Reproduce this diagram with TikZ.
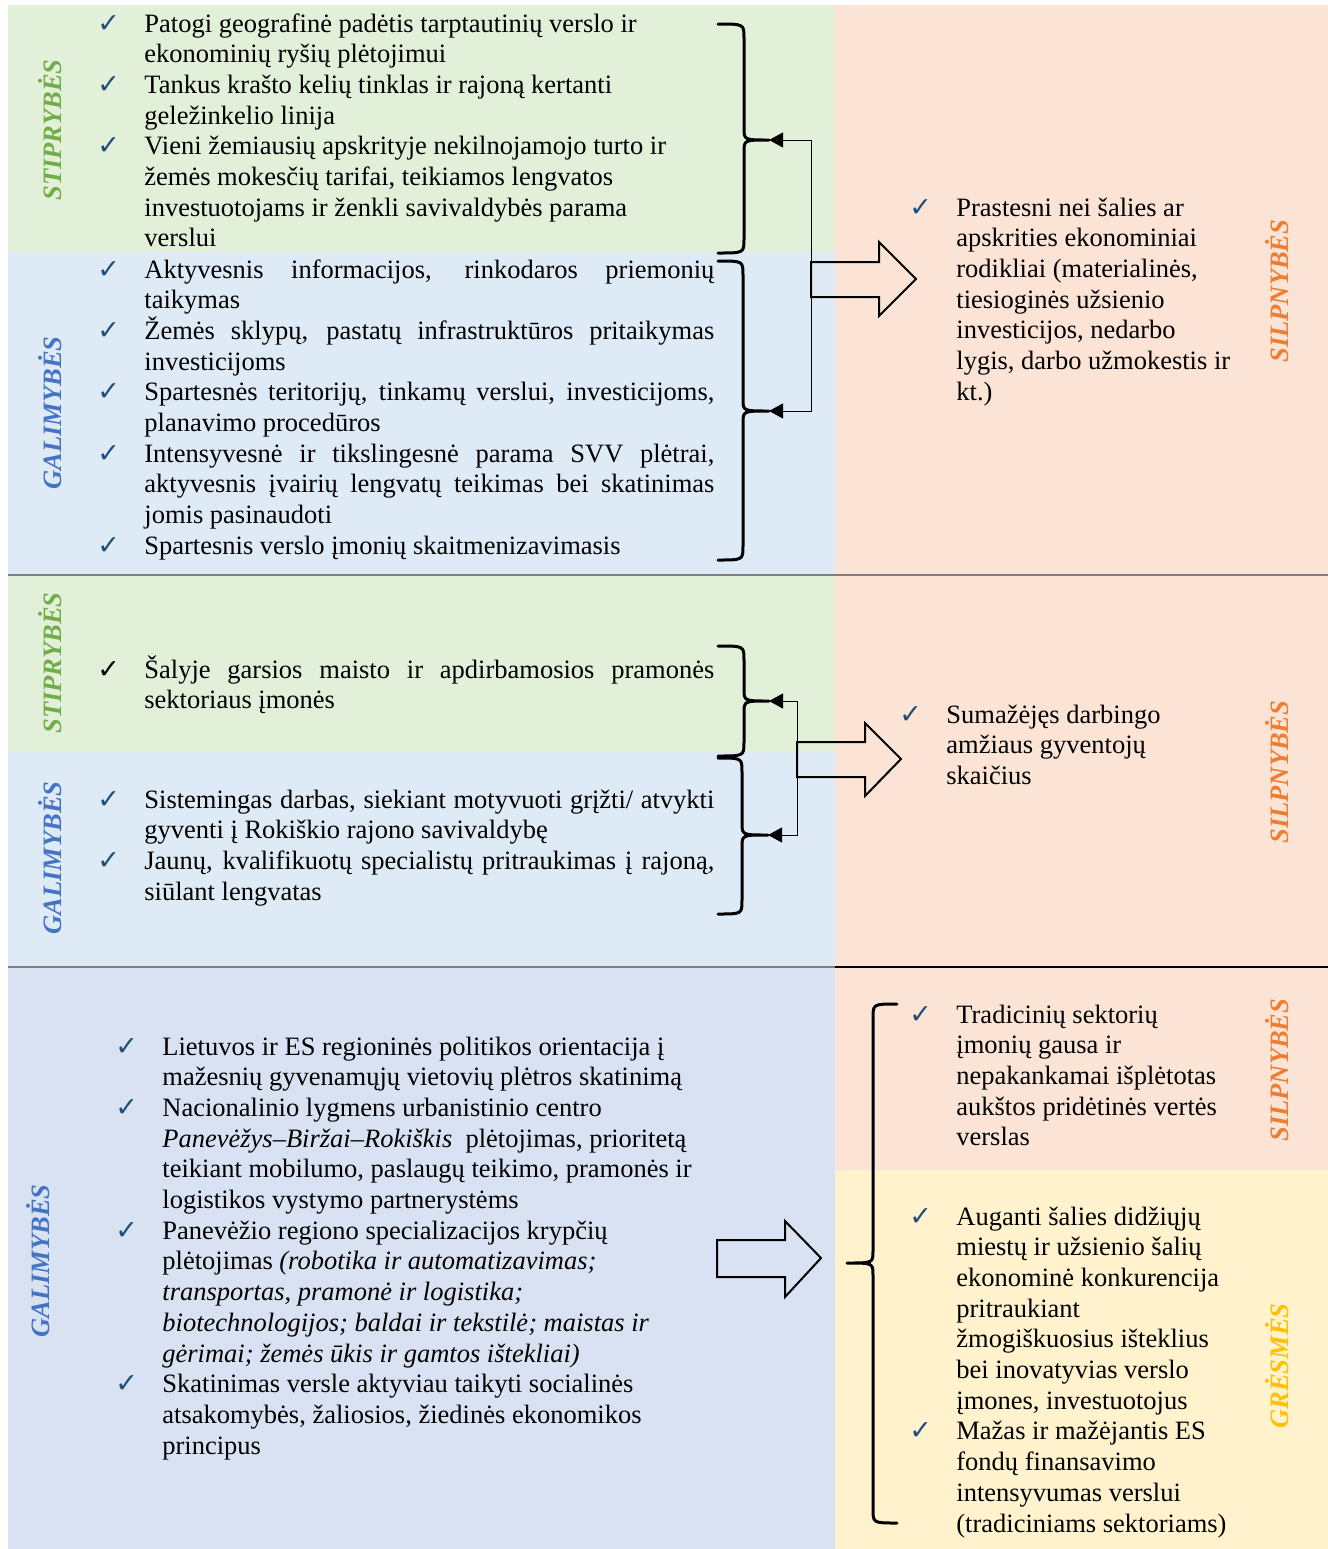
\documentclass[tikz,border=0pt]{standalone}
\usepackage{fontspec}
\setmainfont{Liberation Serif}
\newfontfamily\symf{DejaVu Sans}
\usetikzlibrary{arrows.meta}
\definecolor{green}{HTML}{70AD47}
\definecolor{blue}{HTML}{4472C4}
\definecolor{orange}{HTML}{ED7D31}
\definecolor{gold}{HTML}{FFC000}
\definecolor{tick}{HTML}{1F4E79}
\definecolor{rule}{HTML}{7F7F7F}
\definecolor{lgreen}{HTML}{E2EFD9}
\definecolor{lblue}{HTML}{DEEAF6}
\definecolor{lblueb}{HTML}{D9E2F3}
\definecolor{lorange}{HTML}{FBE4D5}
\definecolor{lgold}{HTML}{FFF2CC}
\newlength\hangw \setlength\hangw{23.5pt}
\newcommand{\itm}[2][tick]{\noindent\hangindent=\hangw\hangafter=1\makebox[\hangw][l]{\textcolor{#1}{\symf\fontsize{13.5}{13.5}\selectfont ✓}}#2\par}
\newcommand{\lst}[2]{\parbox[t]{#1}{\hyphenpenalty=10000\exhyphenpenalty=10000\tolerance=10000\hbadness=10000 #2}}
% curly brace: end x, spine x, tip x, top y, middle y, bottom y
\newcommand{\curly}[6]{\draw[brc] (#1,#4) .. controls (#2,#4) .. (#2,#4+14) -- (#2,#5-12) .. controls (#2,#5) .. (#3,#5) .. controls (#2,#5) .. (#2,#5+12) -- (#2,#6-14) .. controls (#2,#6) .. (#1,#6);}

\begin{document}
\begin{tikzpicture}[x=0.5pt,y=-0.5pt,>={Triangle[length=7pt,width=7.5pt]},font=\fontsize{13.25}{15.35}\selectfont,
  brc/.style={line width=1.5pt,line cap=round,line join=round},
  hollow/.style={line width=1pt,line join=miter},
  link/.style={->,line width=0.5pt},
  lab/.style={rotate=90,font=\fontsize{13.25}{15.35}\selectfont\bfseries\itshape},
  sep/.style={draw=rule,line width=1pt}]
\useasboundingbox (0,0) rectangle (1328,1549);
% backgrounds
\fill[lgreen] (8,5) rectangle (835,252);
\fill[lblue] (8,252) rectangle (835,575);
\fill[lorange] (835,5) rectangle (1328,575);
\fill[lgreen] (8,575) rectangle (835,752);
\fill[lblue] (8,752) rectangle (835,967);
\fill[lorange] (835,575) rectangle (1328,967);
\fill[lblueb] (8,967) rectangle (835,1549);
\fill[lorange] (835,967) rectangle (1328,1170);
\fill[lgold] (835,1170) rectangle (1328,1549);
\draw[sep] (8,575) -- (1328,575);
\draw[sep] (8,967) -- (835,967);
\draw[line width=1pt] (835,967) -- (1328,967);

% side labels
\node[lab,green] (ls1) at (50,130) {STIPRYBĖS};
\node[lab,blue] (lg1) at (50,413) {GALIMYBĖS};
\node[lab,green] (ls2) at (50,663) {STIPRYBĖS};
\node[lab,blue] (lg2) at (50,858) {GALIMYBĖS};
\node[lab,blue] (lg3) at (38,1261) {GALIMYBĖS};
\node[lab,orange] (lw1) at (1277,291) {SILPNYBĖS};
\node[lab,orange] (lw2) at (1277,772) {SILPNYBĖS};
\node[lab,orange] (lw3) at (1277,1070) {SILPNYBĖS};
\node[lab,gold] (lt3) at (1277,1366) {GRĖSMĖS};

% section 1
\node[anchor=base west,inner sep=0] (s1) at (97,32) {\lst{330pt}{\raggedright
\itm{Patogi geografinė padėtis tarptautinių verslo ir\linebreak ekonominių ryšių plėtojimui}
\itm{Tankus krašto kelių tinklas ir rajoną kertanti\linebreak geležinkelio linija}
\itm{Vieni žemiausių apskrityje nekilnojamojo turto ir\linebreak žemės mokesčių tarifai, teikiamos lengvatos\linebreak investuotojams ir ženkli savivaldybės parama\linebreak verslui}}};
\node[anchor=base west,inner sep=0] (g1) at (97,278) {\lst{308.5pt}{
\itm{Aktyvesnis informacijos, rinkodaros priemonių\linebreak taikymas}
\itm{Žemės sklypų, pastatų infrastruktūros pritaikymas\linebreak investicijoms}
\itm{Spartesnės teritorijų, tinkamų verslui, investicijoms,\linebreak planavimo procedūros}
\itm{Intensyvesnė ir tikslingesnė parama SVV plėtrai,\linebreak aktyvesnis įvairių lengvatų teikimas bei skatinimas\linebreak jomis pasinaudoti}
\itm{Spartesnis verslo įmonių skaitmenizavimasis}}};
\node[anchor=base west,inner sep=0] (w1) at (909,216) {\lst{200pt}{\raggedright
\itm{Prastesni nei šalies ar\linebreak apskrities ekonominiai\linebreak rodikliai (materialinės,\linebreak tiesioginės užsienio\linebreak investicijos, nedarbo\linebreak lygis, darbo užmokestis ir\linebreak kt.)}}};
\curly{718}{744}{769}{24}{140}{253}
\curly{718}{743}{769}{261}{411}{560}
\coordinate (j1) at (811,279);
\coordinate (t1s) at (769,140);
\coordinate (t1g) at (769,411);
\draw[link] (j1) |- (t1s);
\draw[link] (j1) |- (t1g);
\draw[hollow] (811,262) -- ++(68,0) -- ++(0,-20) -- ++(37,37) -- ++(-37,37) -- ++(0,-19) -- ++(-68,0) -- cycle;

% section 2
\node[anchor=base west,inner sep=0] (s2) at (97,678) {\lst{308.5pt}{
\itm[black]{Šalyje garsios maisto ir apdirbamosios pramonės\linebreak sektoriaus įmonės}}};
\node[anchor=base west,inner sep=0] (g2) at (97,808) {\lst{308.5pt}{
\itm{Sistemingas darbas, siekiant motyvuoti grįžti/ atvykti\linebreak gyventi į Rokiškio rajono savivaldybę}
\itm{Jaunų, kvalifikuotų specialistų pritraukimas į rajoną,\linebreak siūlant lengvatas}}};
\node[anchor=base west,inner sep=0] (w2) at (899,723) {\lst{200pt}{\raggedright
\itm{Sumažėjęs darbingo\linebreak amžiaus gyventojų\linebreak skaičius}}};
\curly{718}{744}{769}{646}{701}{756}
\curly{718}{742}{768}{758}{835}{914}
\coordinate (j2) at (797,759);
\coordinate (t2s) at (769,701);
\coordinate (t2g) at (768,835);
\draw[link] (j2) |- (t2s);
\draw[link] (j2) |- (t2g);
\draw[hollow] (797,742) -- ++(68,0) -- ++(0,-19) -- ++(36,36) -- ++(-36,37) -- ++(0,-19) -- ++(-68,0) -- cycle;

% section 3
\node[anchor=base west,inner sep=0] (g3) at (115,1055) {\lst{330pt}{\raggedright
\itm{Lietuvos ir ES regioninės politikos orientacija į\linebreak mažesnių gyvenamųjų vietovių plėtros skatinimą}
\itm{Nacionalinio lygmens urbanistinio centro\linebreak \textit{Panevėžys–Biržai–Rokiškis}\ \ plėtojimas, prioritetą\linebreak teikiant mobilumo, paslaugų teikimo, pramonės ir\linebreak logistikos vystymo partnerystėms}
\itm{Panevėžio regiono specializacijos krypčių\linebreak plėtojimas \textit{(robotika ir automatizavimas;\linebreak transportas, pramonė ir logistika;\linebreak biotechnologijos; baldai ir tekstilė; maistas ir\linebreak gėrimai; žemės ūkis ir gamtos ištekliai)}}
\itm{Skatinimas versle aktyviau taikyti socialinės\linebreak atsakomybės, žaliosios, žiedinės ekonomikos\linebreak principus}}};
\node[anchor=base west,inner sep=0] (w3) at (909,1023) {\lst{200pt}{\raggedright
\itm{Tradicinių sektorių\linebreak įmonių gausa ir\linebreak nepakankamai išplėtotas\linebreak aukštos pridėtinės vertės\linebreak verslas}}};
\node[anchor=base west,inner sep=0] (t3) at (909,1225) {\lst{200pt}{\raggedright
\itm{Auganti šalies didžiųjų\linebreak miestų ir užsienio šalių\linebreak ekonominė konkurencija\linebreak pritraukiant\linebreak žmogiškuosius išteklius\linebreak bei inovatyvias verslo\linebreak įmones, investuotojus}
\itm{Mažas ir mažėjantis ES\linebreak fondų finansavimo\linebreak intensyvumas verslui\linebreak (tradiciniams sektoriams)}}};
\curly{897}{873}{847}{1004}{1263}{1523}
\draw[hollow] (717,1240) -- ++(68,0) -- ++(0,-19) -- ++(36,37) -- ++(-36,39) -- ++(0,-20) -- ++(-68,0) -- cycle;
\end{tikzpicture}
\end{document}
